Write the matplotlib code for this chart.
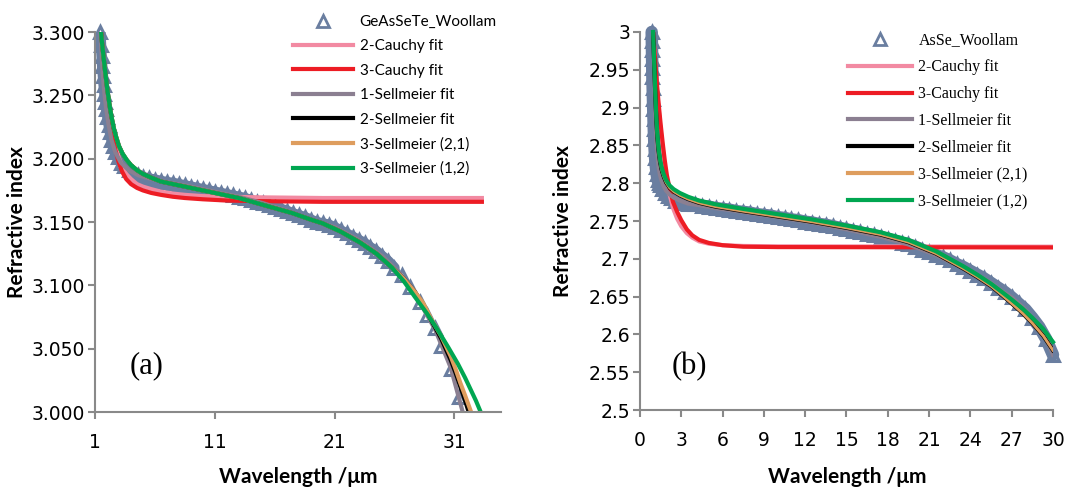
import matplotlib.pyplot as plt
from matplotlib.lines import Line2D

# ---- (a) GeAsSeTe ----
a_meas_x = [1.45, 1.50, 1.55, 1.60, 1.66, 1.72, 1.79, 1.86, 1.94, 2.03, 2.13, 2.24, 2.37, 2.52,
            2.70, 2.90, 3.15, 3.45, 3.8, 4.2, 4.6, 5.0, 5.5, 6.0, 6.5, 7.0, 7.5, 8.0, 8.5, 9.0,
            9.5, 10.0, 10.5, 11.0, 11.5, 12.0, 12.5, 13.0, 13.5, 14.0, 14.5, 15.0, 15.5, 16.0,
            16.5, 17.0, 17.5, 18.0, 18.5, 19.0, 19.5, 20.0, 20.5, 21.0, 21.5, 22.0, 22.5, 23.0,
            23.5, 24.0, 24.5, 25.0, 25.5, 26.0, 26.6, 27.3, 28.1, 28.7, 29.4, 29.9, 30.7, 31.4]
a_meas_n = [3.300, 3.290, 3.281, 3.273, 3.265, 3.258, 3.251, 3.245, 3.239, 3.233, 3.227, 3.221,
            3.215, 3.210, 3.205, 3.201, 3.197, 3.194, 3.191, 3.189, 3.187, 3.1855, 3.1845, 3.1835,
            3.1825, 3.1815, 3.181, 3.180, 3.179, 3.178, 3.177, 3.176, 3.175, 3.174, 3.173, 3.172,
            3.171, 3.170, 3.169, 3.1675, 3.166, 3.165, 3.1635, 3.162, 3.1605, 3.159, 3.157, 3.1555,
            3.154, 3.152, 3.150, 3.149, 3.148, 3.146, 3.1435, 3.141, 3.1385, 3.136, 3.1335, 3.130,
            3.127, 3.123, 3.119, 3.114, 3.108, 3.099, 3.087, 3.077, 3.066, 3.052, 3.034, 3.012]

a_cauchy_x = [1.50, 1.60, 1.70, 1.82, 1.95, 2.10, 2.27, 2.47, 2.70, 2.95, 3.25, 3.6, 4.0, 4.5,
              5.0, 5.7, 6.5, 7.5, 8.5, 10.0, 12.0, 15.0, 20.0, 33.3]
a_cauchy2_n = [3.300, 3.289, 3.279, 3.267, 3.256, 3.244, 3.233, 3.221, 3.211, 3.202, 3.194,
               3.188, 3.184, 3.180, 3.178, 3.176, 3.174, 3.1725, 3.1715, 3.1705, 3.170, 3.1695,
               3.169, 3.169]
a_cauchy3_n = [3.300, 3.289, 3.278, 3.266, 3.254, 3.242, 3.230, 3.218, 3.207, 3.198, 3.190,
               3.184, 3.180, 3.177, 3.175, 3.173, 3.1715, 3.170, 3.169, 3.168, 3.167, 3.1665,
               3.166, 3.166]

a_sell1_x = [1.45, 1.55, 1.66, 1.79, 1.94, 2.13, 2.37, 2.70, 3.15, 3.8, 4.6, 5.5, 7.0, 9.0,
             11.0, 13.0, 15.0, 17.0, 19.0, 21.0, 23.0, 25.0, 26.6, 28.1, 29.4, 30.7, 31.7]
a_sell1_n = [3.300, 3.281, 3.265, 3.251, 3.239, 3.227, 3.215, 3.205, 3.197, 3.191, 3.187,
             3.1845, 3.1815, 3.178, 3.174, 3.170, 3.165, 3.159, 3.152, 3.146, 3.136, 3.123,
             3.108, 3.087, 3.065, 3.035, 3.000]

a_fit_x = [1.50, 1.55, 1.60, 1.67, 1.75, 1.83, 1.92, 2.02, 2.13, 2.25, 2.40, 2.57, 2.77, 3.0,
           3.3, 3.65, 4.0, 4.5, 5.0, 5.7, 6.5, 7.5, 8.5, 10.0, 11.5, 13.0, 14.5, 16.0, 17.5,
           19.0, 20.0, 21.5, 23.1, 24.5, 25.8]
a_fit_n = [3.300, 3.295, 3.290, 3.284, 3.277, 3.270, 3.263, 3.255, 3.248, 3.240, 3.232, 3.224,
           3.217, 3.210, 3.204, 3.199, 3.195, 3.191, 3.188, 3.185, 3.182, 3.180, 3.178, 3.175,
           3.172, 3.169, 3.165, 3.161, 3.157, 3.152, 3.149, 3.1425, 3.134, 3.125, 3.114]
a_s12_tail_x = [26.8, 27.7, 28.7, 29.6, 30.5, 31.3, 31.9, 32.4, 32.8, 33.2]
a_s12_tail_n = [3.103, 3.091, 3.078, 3.065, 3.051, 3.038, 3.027, 3.017, 3.009, 3.000]
a_s21_tail_x = [26.8, 27.7, 28.4, 29.1, 29.9, 30.7, 31.1, 31.5, 31.9, 32.4]
a_s21_tail_n = [3.105, 3.095, 3.086, 3.073, 3.060, 3.044, 3.034, 3.023, 3.013, 3.000]
a_s2_tail_x = [26.8, 27.7, 28.4, 29.1, 29.9, 30.7, 31.1, 31.5, 31.9, 32.2]
a_s2_tail_n = [3.105, 3.095, 3.085, 3.072, 3.058, 3.041, 3.031, 3.020, 3.009, 3.000]

# ---- (b) AsSe ----
b_meas_x = [0.85, 0.86, 0.87, 0.88, 0.89, 0.90, 0.92, 0.94, 0.96, 0.98, 1.00, 1.03, 1.06, 1.10,
            1.15, 1.21, 1.28, 1.37, 1.48, 1.62, 1.8, 2.0, 2.25, 2.55, 2.9, 3.3, 3.5, 4.0, 4.5,
            5.0, 5.5, 6.0, 6.5, 7.0, 7.5, 8.0, 8.5, 9.0, 9.5, 10.0, 10.5, 11.0, 11.5, 12.0, 12.5,
            13.0, 13.5, 14.0, 14.5, 15.0, 15.5, 16.0, 16.5, 17.0, 17.5, 18.0, 18.5, 19.0, 19.5,
            20.0, 20.5, 21.0, 21.5, 22.0, 22.5, 23.0, 23.5, 24.0, 24.5, 25.0, 25.5, 26.0, 26.5,
            27.0, 27.5, 28.0, 28.5, 29.0, 29.5, 30.0]
b_meas_n = [3.000, 2.988, 2.976, 2.964, 2.952, 2.940, 2.926, 2.912, 2.898, 2.885, 2.872, 2.858,
            2.845, 2.833, 2.822, 2.812, 2.804, 2.800, 2.797, 2.792, 2.787, 2.783, 2.780, 2.777,
            2.775, 2.774, 2.773, 2.772, 2.770, 2.769, 2.767, 2.766, 2.765, 2.763, 2.762, 2.761,
            2.759, 2.758, 2.757, 2.755, 2.754, 2.752, 2.751, 2.749, 2.748, 2.746, 2.745, 2.743,
            2.741, 2.739, 2.737, 2.735, 2.733, 2.731, 2.729, 2.726, 2.724, 2.721, 2.719, 2.716,
            2.712, 2.709, 2.705, 2.702, 2.698, 2.693, 2.689, 2.684, 2.679, 2.674, 2.668, 2.662,
            2.656, 2.649, 2.641, 2.633, 2.622, 2.610, 2.594, 2.573]

b_cauchy_x = [0.95, 1.05, 1.15, 1.25, 1.37, 1.5, 1.65, 1.8, 1.95, 2.15, 2.4, 2.7, 3.0, 3.4,
              3.8, 4.3, 5.0, 6.0, 7.5, 10.0, 30.0]
b_cauchy2_n = [3.000, 2.972, 2.945, 2.921, 2.895, 2.870, 2.845, 2.823, 2.804, 2.785, 2.767,
               2.753, 2.743, 2.734, 2.728, 2.723, 2.720, 2.718, 2.717, 2.7165, 2.716]
b_cauchy3_n = [3.000, 2.975, 2.950, 2.927, 2.902, 2.878, 2.853, 2.830, 2.811, 2.793, 2.775,
               2.762, 2.751, 2.739, 2.731, 2.725, 2.721, 2.718, 2.716, 2.7155, 2.715]

b_fit_x = [0.95, 1.0, 1.05, 1.1, 1.15, 1.2, 1.27, 1.35, 1.45, 1.57, 1.72, 1.9, 2.15, 2.45, 2.9,
           3.5, 4.3, 5.5, 7.5, 10.0, 12.5, 15.0, 17.5, 19.5, 21.5, 22.5, 23.5, 24.5, 25.5,
           26.3, 27.0, 27.8, 28.5, 29.3, 30.0]
b_s12_n = [3.000, 2.975, 2.950, 2.925, 2.902, 2.882, 2.862, 2.846, 2.832, 2.821, 2.812, 2.804,
           2.797, 2.792, 2.787, 2.782, 2.777, 2.772, 2.766, 2.759, 2.752, 2.744, 2.735, 2.725,
           2.710, 2.700, 2.690, 2.679, 2.667, 2.656, 2.646, 2.634, 2.622, 2.607, 2.590]
b_s21_n = [3.000, 2.974, 2.948, 2.922, 2.899, 2.879, 2.859, 2.843, 2.829, 2.818, 2.809, 2.801,
           2.794, 2.789, 2.784, 2.779, 2.774, 2.769, 2.763, 2.756, 2.749, 2.741, 2.732, 2.722,
           2.707, 2.697, 2.687, 2.676, 2.664, 2.652, 2.641, 2.628, 2.615, 2.598, 2.579]
b_s1_n = [3.000, 2.966, 2.932, 2.900, 2.873, 2.853, 2.836, 2.822, 2.811, 2.803, 2.796, 2.790,
          2.785, 2.781, 2.777, 2.773, 2.771, 2.767, 2.762, 2.755, 2.748, 2.739, 2.729, 2.719,
          2.705, 2.696, 2.689, 2.679, 2.668, 2.657, 2.649, 2.636, 2.622, 2.604, 2.573]

a_yticks = [3.000, 3.050, 3.100, 3.150, 3.200, 3.250, 3.300]
a_xticks = [1, 11, 21, 31]
b_yticks = [2.5, 2.55, 2.6, 2.65, 2.7, 2.75, 2.8, 2.85, 2.9, 2.95, 3.0]
b_xticks = [0, 3, 6, 9, 12, 15, 18, 21, 24, 27, 30]

labels = ['2-Cauchy fit', '3-Cauchy fit', '1-Sellmeier fit', '2-Sellmeier fit',
          '3-Sellmeier (2,1)', '3-Sellmeier (1,2)']
colors = ['#F28AA2', '#ED1C24', '#8B7F91', '#000000', '#DE9D5E', '#00A651']
meas_color = '#6A7EA0'
spine_color = '#898989'
sans = 'Lato'
tick_font = 'DejaVu Sans'
serif = 'Liberation Serif'

fig = plt.figure(figsize=(10.69, 4.87), dpi=100)
ax1 = fig.add_axes([0.0889, 0.154, 0.3798, 0.780])
ax2 = fig.add_axes([0.5987, 0.1581, 0.3863, 0.7762])

lw = 3.0
meas_kw = dict(ls='none', marker='^', ms=8.5, mfc='none', mec=meas_color, mew=2.2, clip_on=False)

# panel (a): dense measured points merge into a band
n_dense = sum(1 for x in a_meas_x if x <= 26)
ax1.plot(a_meas_x[:n_dense], a_meas_n[:n_dense], color=meas_color, lw=7.5, solid_capstyle='round')
ax1.plot(a_meas_x, a_meas_n, **meas_kw)
ax1.plot(a_cauchy_x, a_cauchy2_n, color=colors[0], lw=lw)
ax1.plot(a_cauchy_x, a_cauchy3_n, color=colors[1], lw=lw)
ax1.plot(a_sell1_x, a_sell1_n, color=colors[2], lw=lw)
ax1.plot(a_fit_x + a_s2_tail_x, a_fit_n + a_s2_tail_n, color=colors[3], lw=lw)
ax1.plot(a_fit_x + a_s21_tail_x, a_fit_n + a_s21_tail_n, color=colors[4], lw=lw)
ax1.plot(a_fit_x + a_s12_tail_x, a_fit_n + a_s12_tail_n, color=colors[5], lw=lw)
ax1.set_xlim(1, 34.9)
ax1.set_ylim(3.0, 3.3)
ax1.set_xticks(a_xticks)
ax1.set_yticks(a_yticks)
ax1.set_yticklabels([f'{v:.3f}' for v in a_yticks])

# panel (b)
ax2.plot(b_meas_x, b_meas_n, color=meas_color, lw=9, solid_capstyle='round', clip_on=False)
ax2.plot(b_meas_x, b_meas_n, **meas_kw)
ax2.plot(b_cauchy_x, b_cauchy2_n, color=colors[0], lw=lw)
ax2.plot(b_cauchy_x, b_cauchy3_n, color=colors[1], lw=lw)
ax2.plot(b_fit_x, b_s1_n, color=colors[2], lw=lw)
ax2.plot(b_fit_x, b_s21_n, color=colors[3], lw=lw)
ax2.plot(b_fit_x, b_s21_n, color=colors[4], lw=lw * 0.7)
ax2.plot(b_fit_x, b_s12_n, color=colors[5], lw=lw, clip_on=False)
ax2.set_xlim(0, 30)
ax2.set_ylim(2.5, 3.0)
ax2.set_xticks(b_xticks)
ax2.set_yticks(b_yticks)
ax2.set_yticklabels([f'{v:g}' for v in b_yticks])

for ax in (ax1, ax2):
    for s in ('top', 'right'):
        ax.spines[s].set_visible(False)
    for s in ('left', 'bottom'):
        ax.spines[s].set_color(spine_color)
        ax.spines[s].set_linewidth(1.5)
    ax.tick_params(axis='both', direction='out', length=5, width=1.5, color=spine_color,
                   labelsize=13.5)
    ax.tick_params(axis='x', pad=10)
    ax.tick_params(axis='y', pad=2)
    for t in ax.get_xticklabels() + ax.get_yticklabels():
        t.set_fontfamily(tick_font)
    ax.set_xlabel('Wavelength /\u03bcm', fontsize=15, fontweight='bold', fontfamily=sans)
    ax.set_ylabel('Refractive index', fontsize=15, fontweight='bold', fontfamily=sans)

ax1.xaxis.set_label_coords(0.5, -0.145)
ax2.xaxis.set_label_coords(0.503, -0.151)
ax1.yaxis.set_label_coords(-0.167, 0.5)
ax2.yaxis.set_label_coords(-0.162, 0.5)

ax1.text(0.126, 0.121, '(a)', transform=ax1.transAxes, fontsize=22, fontfamily=serif,
         ha='center', va='center')
ax2.text(0.119, 0.116, '(b)', transform=ax2.transAxes, fontsize=22, fontfamily=serif,
         ha='center', va='center')

def legend_handles():
    h = [Line2D([], [], ls='none', marker='^', ms=8, mfc='none', mec=meas_color, mew=2.0)]
    for c in colors:
        h.append(Line2D([], [], color=c, lw=lw))
    return h

leg1 = ax1.legend(legend_handles(), ['GeAsSeTe_Woollam'] + labels, loc='upper left',
                  bbox_to_anchor=(0.488, 1.045), frameon=False, borderpad=0, borderaxespad=0,
                  handlelength=3.9, handletextpad=0.45, labelspacing=0.68, numpoints=1,
                  prop={'family': sans, 'size': 11})
leg2 = ax2.legend(legend_handles(), ['AsSe_Woollam'] + labels, loc='upper left',
                  bbox_to_anchor=(0.504, 0.999), frameon=False, borderpad=0, borderaxespad=0,
                  handlelength=4.0, handletextpad=0.4, labelspacing=0.68, numpoints=1,
                  prop={'family': serif, 'size': 11.5})

fig.savefig('out.png', dpi=100)
